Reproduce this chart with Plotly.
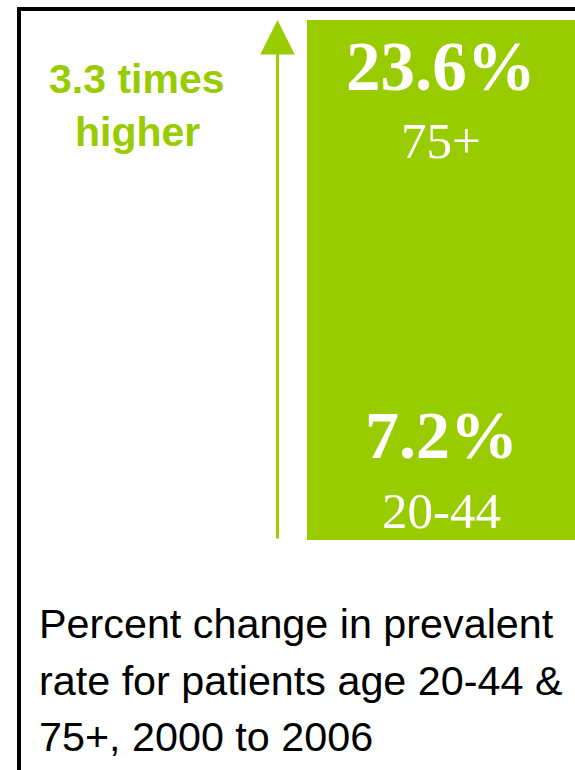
import plotly.graph_objects as go

# ---- data ----
age_groups = ["20-44", "75+"]
pct_change = [7.2, 23.6]            # percent change in prevalent rate, 2000 to 2006
caption_lines = ["Percent change in prevalent",
                 "rate for patients age 20-44 &",
                 "75+, 2000 to 2006"]

GREEN = "#99CC00"
ratio = pct_change[1] / pct_change[0]

fig = go.Figure()
# overlapping bars: full height for 75+, lower segment for 20-44 (same colour -> one block)
for grp, val in sorted(zip(age_groups, pct_change), key=lambda t: -t[1]):
    fig.add_trace(go.Bar(x=[1], y=[val], base=0, width=1, name=grp,
                         marker=dict(color=GREEN, line=dict(width=0)),
                         hoverinfo="skip", showlegend=False))

# value labels inside the block
label_specs = {
    "75+":   dict(big=69, big_shift=-7, small=51, small_shift=-91),
    "20-44": dict(big=68, big_shift=-14, small=51, small_shift=-100),
}
for grp, val in zip(age_groups, pct_change):
    s = label_specs[grp]
    fig.add_annotation(x=1, y=val, xref="x", yref="y", text=f"<b>{val:.1f}%</b>",
                       showarrow=False, xanchor="center", yanchor="top", yshift=s["big_shift"],
                       font=dict(family="Liberation Serif", size=s["big"], color="white"))
    fig.add_annotation(x=1, y=val, xref="x", yref="y", text=grp,
                       showarrow=False, xanchor="center", yanchor="top", yshift=s["small_shift"],
                       font=dict(family="Liberation Serif", size=s["small"], color="white"))

# arrow from 0 to the top value
fig.add_annotation(x=0.39, y=max(pct_change), xref="x", yref="y",
                   ax=0.39, ay=0, axref="x", ayref="y", text="",
                   showarrow=True, arrowhead=2, arrowsize=2.3, arrowwidth=3,
                   arrowcolor=GREEN, standoff=0)

# "3.3 times higher"
for txt, sh in [(f"<b>{ratio:.1f} times</b>", -34), ("<b>higher</b>", -87)]:
    fig.add_annotation(x=-0.134, y=1, xref="x", yref="paper", text=txt,
                       showarrow=False, xanchor="center", yanchor="top", yshift=sh,
                       font=dict(family="Liberation Sans", size=41, color=GREEN))

# caption
for i, line in enumerate(caption_lines):
    fig.add_annotation(x=37 / 575, y=0, xref="paper", yref="paper", text=line,
                       showarrow=False, xanchor="left", yanchor="top",
                       yshift=-59 - 56.5 * i,
                       font=dict(family="Liberation Sans", size=41.3, color="black"))

# frame lines (top and left)
fig.add_shape(type="line", xref="paper", yref="paper",
              x0=17 / 575, x1=1.01, y0=(540 - 9) / 520, y1=(540 - 9) / 520,
              line=dict(color="black", width=4))
fig.add_shape(type="line", xref="paper", yref="paper",
              x0=19 / 575, x1=19 / 575, y0=(540 - 7) / 520, y1=(540 - 775) / 520,
              line=dict(color="black", width=4))

fig.update_layout(
    width=575, height=770,
    margin=dict(l=0, r=0, t=20, b=230),
    paper_bgcolor="white", plot_bgcolor="white",
    barmode="overlay", bargap=0,
    xaxis=dict(range=[-0.6455, 1.5], visible=False, fixedrange=True),
    yaxis=dict(range=[0, max(pct_change)], visible=False, fixedrange=True),
)

fig.write_html("out.html", config={"displayModeBar": False})
